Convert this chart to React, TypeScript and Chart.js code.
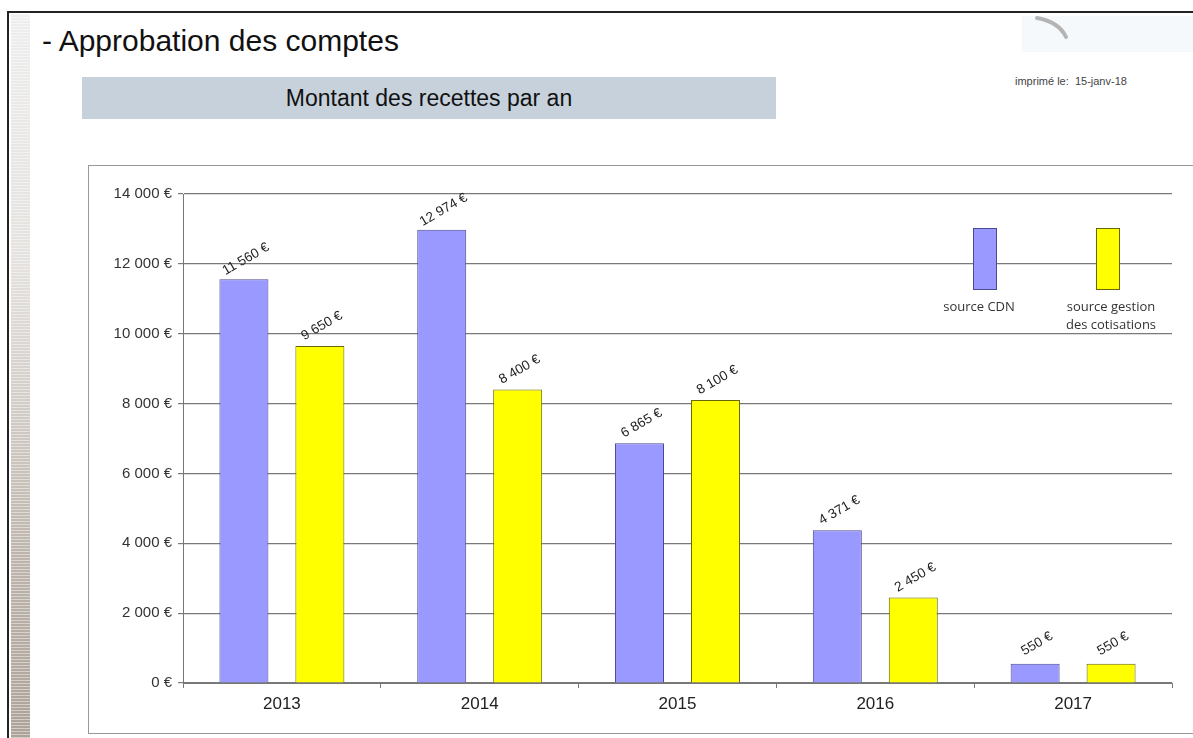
import React, { useEffect, useRef } from 'react';
import { Chart, registerables } from 'chart.js';

Chart.register(...registerables);

const categories = ['2013', '2014', '2015', '2016', '2017'];
const cdnValues = [11560, 12974, 6865, 4371, 550];
const gestionValues = [9650, 8400, 8100, 2450, 550];
const yMin = 0;
const yMax = 14000;
const yStep = 2000;
const seriesNames = ['source CDN', 'source gestion des cotisations'];
const legendLines = [['source CDN'], ['source gestion', 'des cotisations']];

const FONT = '"Liberation Sans", Arial, sans-serif';
const LEGEND_FONT = '"Open Sans", "Noto Sans", sans-serif';
const BLUE = '#9999ff';
const BLUE_BORDER = '#4a4a90';
const YELLOW = '#ffff00';
const YELLOW_BORDER = '#66660a';

function fmtEuro(v: number): string {
  return String(v).replace(/\B(?=(\d{3})+(?!\d))/g, ' ') + ' €';
}

const valueLabels = {
  id: 'valueLabels',
  afterDatasetsDraw(chart: any) {
    const ctx = chart.ctx;
    chart.data.datasets.forEach((ds: any, i: number) => {
      const meta = chart.getDatasetMeta(i);
      meta.data.forEach((bar: any, j: number) => {
        const v = ds.data[j] as number;
        ctx.save();
        ctx.translate(bar.x + 2, bar.y - 20);
        ctx.rotate((-30 * Math.PI) / 180);
        ctx.font = '13.5px ' + FONT;
        ctx.fillStyle = '#222';
        ctx.textAlign = 'center';
        ctx.textBaseline = 'middle';
        ctx.fillText(fmtEuro(v), 0, 0);
        ctx.restore();
      });
    });
  },
};

const innerLegend = {
  id: 'innerLegend',
  afterDraw(chart: any) {
    const ctx = chart.ctx;
    const a = chart.chartArea;
    const items = [
      { dx: 790, fill: BLUE, stroke: BLUE_BORDER, textShift: -6, lines: legendLines[0] },
      { dx: 913, fill: YELLOW, stroke: YELLOW_BORDER, textShift: 3, lines: legendLines[1] },
    ];
    items.forEach((it) => {
      const x = a.left + it.dx;
      const y = a.top + 34;
      const w = 24;
      const h = 62;
      ctx.save();
      ctx.fillStyle = it.fill;
      ctx.fillRect(x, y, w, h);
      ctx.strokeStyle = it.stroke;
      ctx.lineWidth = 1;
      ctx.strokeRect(x + 0.5, y + 0.5, w - 1, h - 1);
      ctx.font = '13px ' + LEGEND_FONT;
      ctx.fillStyle = '#333';
      ctx.textAlign = 'center';
      ctx.textBaseline = 'middle';
      it.lines.forEach((ln, k) => {
        ctx.fillText(ln, x + w / 2 + it.textShift, a.top + 113 + k * 18);
      });
      ctx.restore();
    });
  },
};

function BarChart() {
  const ref = useRef<HTMLCanvasElement | null>(null);
  useEffect(() => {
    if (!ref.current) return;
    const chart = new Chart(ref.current, {
      type: 'bar',
      data: {
        labels: categories,
        datasets: [
          {
            label: seriesNames[0],
            data: cdnValues,
            backgroundColor: BLUE,
            borderColor: BLUE_BORDER,
            borderWidth: 1,
            categoryPercentage: 0.768,
            barPercentage: 0.645,
          },
          {
            label: seriesNames[1],
            data: gestionValues,
            backgroundColor: YELLOW,
            borderColor: YELLOW_BORDER,
            borderWidth: 1,
            categoryPercentage: 0.768,
            barPercentage: 0.645,
          },
        ],
      },
      options: {
        animation: false,
        responsive: false,
        maintainAspectRatio: false,
        layout: { padding: { top: 28, right: 21, left: 0, bottom: 0 } },
        plugins: {
          legend: { display: false },
          tooltip: { enabled: false },
        },
        scales: {
          x: {
            grid: {
              display: true,
              drawOnChartArea: false,
              drawTicks: true,
              tickLength: 5,
              color: '#777777',
              offset: true,
            },
            border: { display: true, color: '#777777', width: 1 },
            ticks: { font: { family: FONT, size: 17 }, color: '#222', padding: 6 },
            afterFit(s: any) {
              s.height = 49;
            },
          },
          y: {
            min: yMin,
            max: yMax,
            ticks: {
              stepSize: yStep,
              callback: (v: any) => fmtEuro(Number(v)),
              font: { family: FONT, size: 15 },
              color: '#333',
              padding: 6,
            },
            grid: { color: '#7a7a7a', lineWidth: 1.2, tickLength: 5 },
            border: { display: true, color: '#777777', width: 1 },
            afterFit(s: any) {
              s.width = 94;
            },
          },
        },
      },
      plugins: [valueLabels, innerLegend],
    });
    return () => chart.destroy();
  }, []);
  return <canvas ref={ref} width={1104} height={566} style={{ position: 'absolute', left: 89, top: 166, width: 1104, height: 566 }} />;
}

export default function App() {
  return (
    <div
      style={{
        position: 'absolute',
        left: 0,
        top: 0,
        width: 1193,
        height: 738,
        overflow: 'hidden',
        background: '#ffffff',
        fontFamily: FONT,
      }}
    >
      {/* slide frame */}
      <div style={{ position: 'absolute', left: 7, top: 11, width: 1200, height: 740, borderTop: '2px solid #222', borderLeft: '2px solid #222' }} />
      {/* left decorative stripe */}
      <div
        style={{
          position: 'absolute',
          left: 11,
          top: 14,
          width: 19,
          height: 724,
          background:
            'repeating-linear-gradient(to bottom, rgba(255,255,255,0.45) 0px, rgba(255,255,255,0.45) 1px, rgba(255,255,255,0) 1px, rgba(255,255,255,0) 3px), linear-gradient(to bottom, #eeeeee 0%, #e4e1de 35%, #d2ccc6 55%, #bdb5ad 75%, #aca398 100%)',
        }}
      />
      {/* top-right logo remnant */}
      <div style={{ position: 'absolute', left: 1022, top: 16, width: 171, height: 36, background: '#f6f9fb' }} />
      <svg style={{ position: 'absolute', left: 0, top: 0 }} width={1193} height={60}>
        <path d="M1037 18 Q1059 22 1066 37" stroke="#b4b4b4" strokeWidth={4} fill="none" strokeLinecap="round" />
      </svg>
      {/* title */}
      <div style={{ position: 'absolute', left: 42, top: 26, fontSize: 30, lineHeight: '30px', color: '#111', whiteSpace: 'nowrap' }}>
        - Approbation des comptes
      </div>
      {/* subtitle box */}
      <div
        style={{
          position: 'absolute',
          left: 82,
          top: 77,
          width: 694,
          height: 42,
          background: '#c6d1dc',
          display: 'flex',
          alignItems: 'center',
          justifyContent: 'center',
          fontSize: 23,
          color: '#111',
        }}
      >
        Montant des recettes par an
      </div>
      {/* printed date */}
      <div style={{ position: 'absolute', left: 1015, top: 75, fontSize: 11, lineHeight: '13px', color: '#444', whiteSpace: 'pre' }}>
        {'imprimé le:  15-janv-18'}
      </div>
      {/* chart box */}
      <div style={{ position: 'absolute', left: 88, top: 165, width: 1200, height: 567, border: '1px solid #999' }} />
      <BarChart />
    </div>
  );
}
